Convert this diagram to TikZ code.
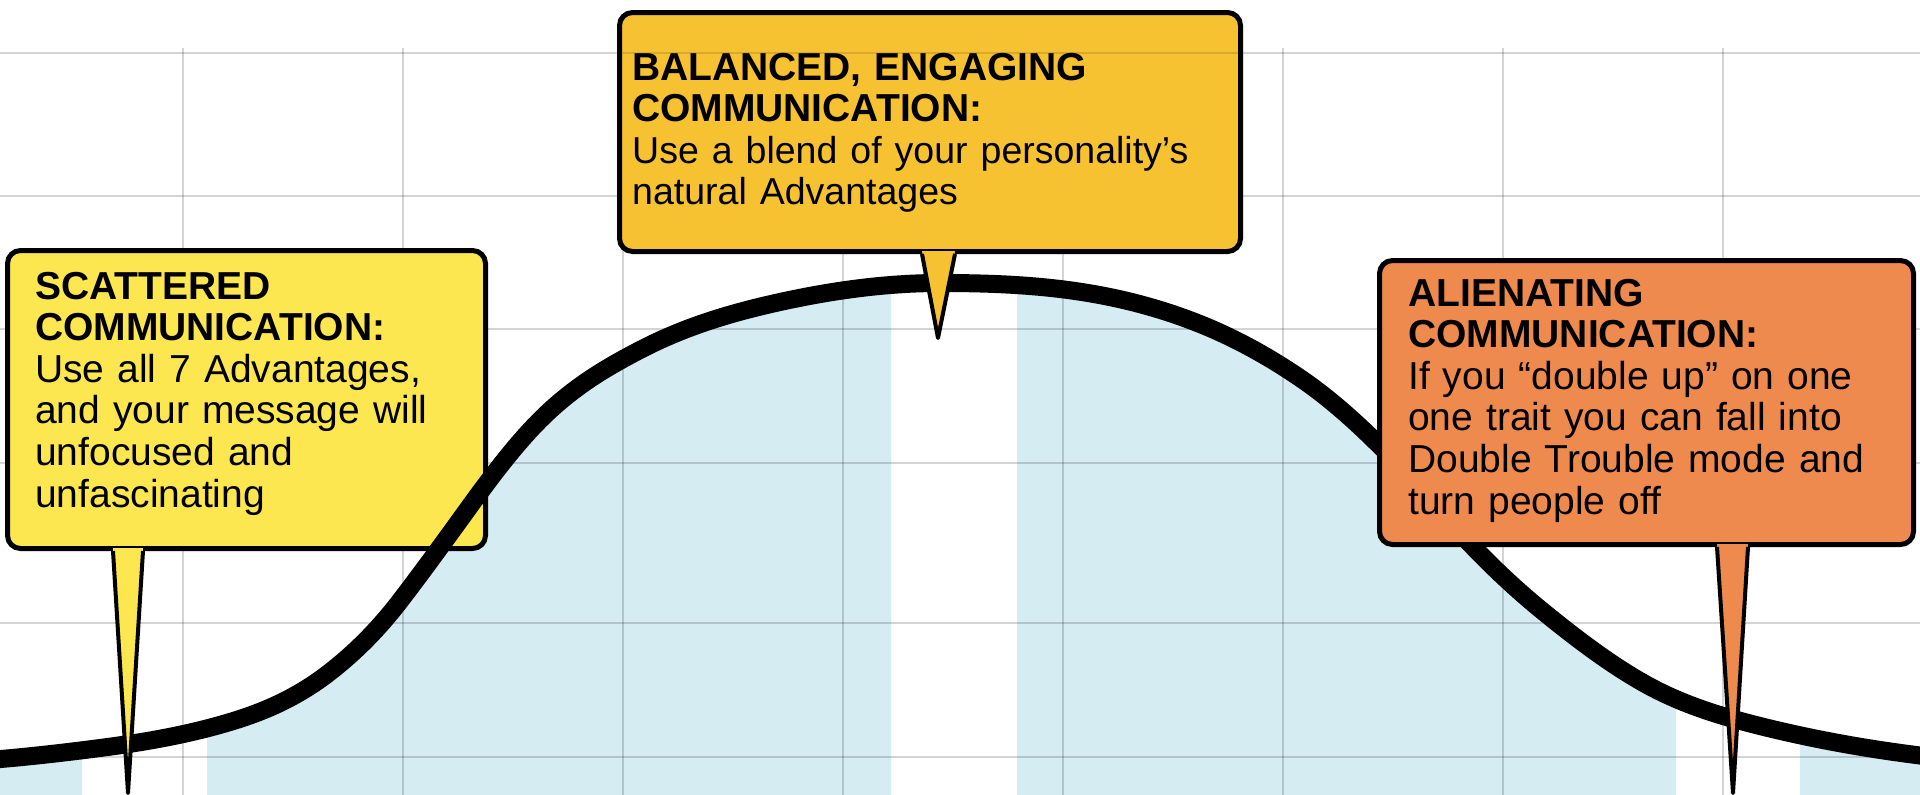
\documentclass[tikz,border=0pt]{standalone}
\usepackage{fontspec}
\setmainfont{Liberation Sans}
\definecolor{scyellow}{RGB}{253,231,80}
\definecolor{balyellow}{RGB}{246,194,49}
\definecolor{alorange}{RGB}{239,138,78}
\definecolor{bluefill}{RGB}{213,236,243}
\begin{document}
\begin{tikzpicture}[x=1pt,y=-1pt,
  gridline/.style={draw=black, draw opacity=0.17, line width=1.8pt},
  calloutbox/.style={draw=black, line width=5pt, rounded corners=13pt, inner sep=0pt, anchor=north west},
  callouttext/.style={anchor=base west, inner sep=0pt, align=left, text width=#1, font=\fontsize{39}{41.6}\selectfont},
  bellcurve/.style={draw=black, line width=18pt},
  pointerline/.style={draw=black, line width=4pt, line join=round},
]
\clip (0,0) rectangle (1920,795);
\fill[white] (0,0) rectangle (1920,795);

% blue area under the curve, with white gaps
\begin{scope}
  \clip (-40,900) -- (-40,762)
    .. controls (6.7,759.2) and (53.3,754.1) .. (100,748)
    .. controls (143.3,742.4) and (186.7,735.0) .. (230,722)
    .. controls (263.3,712.0) and (296.7,698.0) .. (330,672)
    .. controls (353.3,653.8) and (376.7,631.3) .. (400,601)
    .. controls (423.3,570.7) and (446.7,538.2) .. (470,506)
    .. controls (493.3,473.8) and (516.7,443.3) .. (540,420)
    .. controls (573.3,386.7) and (606.7,367.3) .. (640,350)
    .. controls (686.7,325.7) and (733.3,312.3) .. (780,302)
    .. controls (833.3,290.3) and (886.7,283) .. (940,283)
    .. controls (980,283) and (1020,284.2) .. (1060,289)
    .. controls (1106.7,294.6) and (1153.3,305.3) .. (1200,324)
    .. controls (1233.3,337.3) and (1266.7,355.3) .. (1300,378)
    .. controls (1326.7,396.1) and (1353.3,419.3) .. (1380,446)
    .. controls (1406.7,472.7) and (1433.3,504.2) .. (1460,533)
    .. controls (1486.7,561.8) and (1513.3,587.1) .. (1540,609)
    .. controls (1573.3,636.3) and (1606.7,661.7) .. (1640,681)
    .. controls (1680,704.2) and (1720,716) .. (1760,726)
    .. controls (1826.7,742.7) and (1893.3,753.3) .. (1960,760)
    -- (1960,900) -- cycle;
  \fill[bluefill] (-40,0) rectangle (82,800) (207,0) rectangle (891,800) (1017,0) rectangle (1676,800) (1800,0) rectangle (1960,800);
\end{scope}

% grid
\foreach \gx in {183,403,623,843,1063,1283,1503,1723} \draw[gridline] (\gx,48) -- (\gx,795);
\foreach \gy in {53,196,329,463,623,757} \draw[gridline] (0,\gy) -- (1920,\gy);

% left callout box (below the curve)
\node[calloutbox, fill=scyellow, minimum width=478pt, minimum height=298pt] (scbox) at (5,248) {};

% bell curve
\draw[bellcurve] (-40,762)
    .. controls (6.7,759.2) and (53.3,754.1) .. (100,748)
    .. controls (143.3,742.4) and (186.7,735.0) .. (230,722)
    .. controls (263.3,712.0) and (296.7,698.0) .. (330,672)
    .. controls (353.3,653.8) and (376.7,631.3) .. (400,601)
    .. controls (423.3,570.7) and (446.7,538.2) .. (470,506)
    .. controls (493.3,473.8) and (516.7,443.3) .. (540,420)
    .. controls (573.3,386.7) and (606.7,367.3) .. (640,350)
    .. controls (686.7,325.7) and (733.3,312.3) .. (780,302)
    .. controls (833.3,290.3) and (886.7,283) .. (940,283)
    .. controls (980,283) and (1020,284.2) .. (1060,289)
    .. controls (1106.7,294.6) and (1153.3,305.3) .. (1200,324)
    .. controls (1233.3,337.3) and (1266.7,355.3) .. (1300,378)
    .. controls (1326.7,396.1) and (1353.3,419.3) .. (1380,446)
    .. controls (1406.7,472.7) and (1433.3,504.2) .. (1460,533)
    .. controls (1486.7,561.8) and (1513.3,587.1) .. (1540,609)
    .. controls (1573.3,636.3) and (1606.7,661.7) .. (1640,681)
    .. controls (1680,704.2) and (1720,716) .. (1760,726)
    .. controls (1826.7,742.7) and (1893.3,753.3) .. (1960,760);

% other callout boxes
\node[calloutbox, fill=balyellow, minimum width=621pt, minimum height=239pt] (balbox) at (617,10) {};
\node[calloutbox, fill=alorange, minimum width=534pt, minimum height=284pt] (albox) at (1377,258) {};
\draw[draw=black, draw opacity=0.12, line width=2pt] (balbox.west |- 0,53) -- (balbox.east |- 0,53);

% pointer tips
\coordinate (sctip) at (128,793);
\coordinate (baltip) at (938,338);
\coordinate (altip) at (1733,793);

% pointers
\fill[scyellow] ([xshift=108pt,yshift=3pt]scbox.south west) -- (sctip) -- ([xshift=138pt,yshift=3pt]scbox.south west) -- cycle;
\draw[pointerline] ([xshift=108pt]scbox.south west) -- (sctip) -- ([xshift=138pt]scbox.south west);
\fill[balyellow] ([xshift=305pt,yshift=3pt]balbox.south west) -- (baltip) -- ([xshift=338pt,yshift=3pt]balbox.south west) -- cycle;
\draw[pointerline] ([xshift=305pt]balbox.south west) -- (baltip) -- ([xshift=338pt]balbox.south west);
\fill[alorange] ([xshift=340pt,yshift=3pt]albox.south west) -- (altip) -- ([xshift=371pt,yshift=3pt]albox.south west) -- cycle;
\draw[pointerline] ([xshift=340pt]albox.south west) -- (altip) -- ([xshift=371pt]albox.south west);

% texts
\node[callouttext=440pt] (sctext) at (35,299) {\textbf{SCATTERED}\\\textbf{COMMUNICATION:}\\Use all 7 Advantages,\\and your message will\\unfocused and\\unfascinating};
\node[callouttext=590pt] (baltext) at (632,80) {\textbf{BALANCED, ENGAGING}\\\textbf{COMMUNICATION:}\\{\fontsize{37.5}{41.6}\selectfont Use a blend of your personality’s}\\{\fontsize{37.5}{41.6}\selectfont natural Advantages}};
\node[callouttext=500pt] (altext) at (1408,306) {\textbf{ALIENATING}\\\textbf{COMMUNICATION:}\\If you “double up” on one\\one trait you can fall into\\Double Trouble mode and\\turn people off};
\end{tikzpicture}
\end{document}
